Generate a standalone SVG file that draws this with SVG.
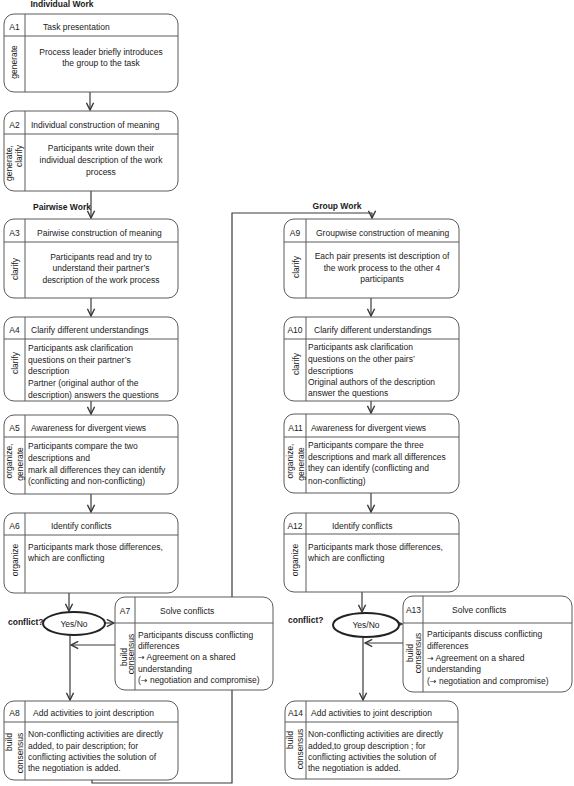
<svg xmlns="http://www.w3.org/2000/svg" width="574" height="786" viewBox="0 0 574 786">
<style>
text{font-family:"Liberation Sans",Arial,sans-serif;font-size:8.5px;fill:#1a1a1a}
.b{font-weight:bold}
.ar{font-family:"DejaVu Sans",sans-serif;font-size:8px}
.box{fill:#fff;stroke:#5a5a5a;stroke-width:1}
.ln{stroke:#5a5a5a;stroke-width:1;fill:none}
.c{text-anchor:middle}
.s{text-anchor:middle;dominant-baseline:central}
.con{stroke:#3a3a3a;stroke-width:1.2;fill:none}
.ell{fill:#fff;stroke:#222;stroke-width:2}
</style>
<defs>
<marker id="ah" viewBox="0 0 10 10" refX="9" refY="5" markerWidth="9" markerHeight="9" markerUnits="userSpaceOnUse" orient="auto">
<path d="M1,1 L9,5 L1,9" fill="none" stroke="#3a3a3a" stroke-width="1.6"/>
</marker>
</defs>
<g id="labels">
<text class="b c" x="62" y="7">Individual Work</text>
<text class="b" x="33" y="210">Pairwise Work</text>
<text class="b c" x="337" y="209">Group Work</text>
<text class="b" x="8" y="625">conflict?</text>
<text class="b" x="288" y="623">conflict?</text>
</g>
<g id="connectors">
<line class="con" x1="90" y1="92" x2="90" y2="110" marker-end="url(#ah)"/>
<line class="con" x1="91" y1="191" x2="91" y2="218" marker-end="url(#ah)"/>
<line class="con" x1="91" y1="298" x2="91" y2="316" marker-end="url(#ah)"/>
<line class="con" x1="91" y1="401" x2="91" y2="414" marker-end="url(#ah)"/>
<line class="con" x1="91" y1="494" x2="91" y2="512" marker-end="url(#ah)"/>
<line class="con" x1="69" y1="593" x2="69" y2="611" marker-end="url(#ah)"/>
<line class="con" x1="104" y1="623" x2="114" y2="623" marker-end="url(#ah)"/>
<line class="con" x1="115" y1="645" x2="71" y2="645" marker-end="url(#ah)"/>
<line class="con" x1="70" y1="635" x2="70" y2="700" marker-end="url(#ah)"/>
<polyline class="con" points="92,780 92,783 232,783 232,213 372,213 372,218" marker-end="url(#ah)"/>
<line class="con" x1="371" y1="298" x2="371" y2="316" marker-end="url(#ah)"/>
<line class="con" x1="371" y1="401" x2="371" y2="413" marker-end="url(#ah)"/>
<line class="con" x1="371" y1="493" x2="371" y2="512" marker-end="url(#ah)"/>
<line class="con" x1="362" y1="592" x2="362" y2="612" marker-end="url(#ah)"/>
<line class="con" x1="399" y1="624" x2="402" y2="624" marker-end="url(#ah)"/>
<line class="con" x1="403" y1="643" x2="365" y2="643" marker-end="url(#ah)"/>
<line class="con" x1="363" y1="637" x2="363" y2="700" marker-end="url(#ah)"/>
</g>
<g id="A1">
<rect class="box" x="4" y="14" width="174" height="78" rx="10"/>
<line class="ln" x1="4" y1="36" x2="178" y2="36"/><line class="ln" x1="25" y1="14" x2="25" y2="92"/>
<text class="c" x="14.5" y="30">A1</text>
<text x="43" y="30">Task presentation</text>
<text class="c" x="101" y="55">Process leader briefly introduces</text>
<text class="c" x="101" y="66">the group to the task</text>
<text class="s" transform="rotate(-90 14 62)" x="14" y="62">generate</text>
</g>
<g id="A2">
<rect class="box" x="4" y="111" width="174" height="80" rx="10"/>
<line class="ln" x1="4" y1="134" x2="178" y2="134"/><line class="ln" x1="25" y1="111" x2="25" y2="191"/>
<text class="c" x="14.5" y="128">A2</text>
<text x="31" y="128">Individual construction of meaning</text>
<text class="c" x="101" y="151">Participants write down their</text>
<text class="c" x="101" y="163">individual description of the work</text>
<text class="c" x="101" y="175">process</text>
<text class="s" transform="rotate(-90 9 163)" x="9" y="163">generate,</text>
<text class="s" transform="rotate(-90 19 156)" x="19" y="156">clarify</text>
</g>
<g id="A3">
<rect class="box" x="4" y="219" width="174" height="79" rx="10"/>
<line class="ln" x1="4" y1="242" x2="178" y2="242"/><line class="ln" x1="25" y1="219" x2="25" y2="298"/>
<text class="c" x="14.5" y="236">A3</text>
<text x="37" y="236">Pairwise construction of meaning</text>
<text class="c" x="101" y="260">Participants read and try to</text>
<text class="c" x="101" y="271">understand their partner’s</text>
<text class="c" x="101" y="283">description of the work process</text>
<text class="s" transform="rotate(-90 15 269)" x="15" y="269">clarify</text>
</g>
<g id="A4">
<rect class="box" x="4" y="317" width="174" height="84" rx="10"/>
<line class="ln" x1="4" y1="339" x2="178" y2="339"/><line class="ln" x1="25" y1="317" x2="25" y2="401"/>
<text class="c" x="14.5" y="333">A4</text>
<text x="31" y="333">Clarify different understandings</text>
<text x="28" y="351">Participants ask clarification</text>
<text x="28" y="363">questions on their partner’s</text>
<text x="28" y="374">description</text>
<text x="28" y="386">Partner (original author of the</text>
<text x="28" y="398">description) answers the questions</text>
<text class="s" transform="rotate(-90 15 363)" x="15" y="363">clarify</text>
</g>
<g id="A5">
<rect class="box" x="4" y="415" width="174" height="79" rx="10"/>
<line class="ln" x1="4" y1="437" x2="178" y2="437"/><line class="ln" x1="25" y1="415" x2="25" y2="494"/>
<text class="c" x="14.5" y="431">A5</text>
<text x="31" y="431">Awareness for divergent views</text>
<text x="28" y="449">Participants compare the two</text>
<text x="28" y="461">descriptions and</text>
<text x="28" y="473">mark all differences they can identify</text>
<text x="28" y="484">(conflicting and non-conflicting)</text>
<text class="s" transform="rotate(-90 9 461)" x="9" y="461">organize,</text>
<text class="s" transform="rotate(-90 20 464)" x="20" y="464">generate</text>
</g>
<g id="A6">
<rect class="box" x="4" y="513" width="174" height="80" rx="10"/>
<line class="ln" x1="4" y1="535" x2="178" y2="535"/><line class="ln" x1="25" y1="513" x2="25" y2="593"/>
<text class="c" x="14.5" y="529">A6</text>
<text x="51" y="529">Identify conflicts</text>
<text x="28" y="550">Participants mark those differences,</text>
<text x="28" y="561">which are conflicting</text>
<text class="s" transform="rotate(-90 15 560)" x="15" y="560">organize</text>
</g>
<g id="D1">
<ellipse class="ell" cx="74" cy="623.5" rx="31" ry="11.5"/>
<text class="c" x="74" y="626.5">Yes/No</text>
</g>
<g id="A7">
<rect class="box" x="115" y="597" width="158" height="93" rx="10"/>
<line class="ln" x1="115" y1="623" x2="273" y2="623"/><line class="ln" x1="135" y1="597" x2="135" y2="690"/>
<text class="c" x="125" y="614">A7</text>
<text x="160" y="614">Solve conflicts</text>
<text x="138" y="638">Participants discuss conflicting</text>
<text x="138" y="649">differences</text>
<text x="138" y="660"><tspan class="ar">→</tspan> Agreement on a shared</text>
<text x="138" y="672">understanding</text>
<text x="138" y="683">(<tspan class="ar">→</tspan> negotiation and compromise)</text>
<text class="s" transform="rotate(-90 124 657)" x="124" y="657">build</text>
<text class="s" transform="rotate(-90 131 654)" x="131" y="654">consensus</text>
</g>
<g id="A8">
<rect class="box" x="4" y="701" width="174" height="79" rx="10"/>
<line class="ln" x1="4" y1="722" x2="178" y2="722"/><line class="ln" x1="25" y1="701" x2="25" y2="780"/>
<text class="c" x="14.5" y="716">A8</text>
<text x="33" y="716">Add activities  to joint description</text>
<text x="28" y="737">Non-conflicting activities are directly</text>
<text x="28" y="749">added, to pair description; for</text>
<text x="28" y="760">conflicting activities the solution of</text>
<text x="28" y="771">the negotiation is added.</text>
<text class="s" transform="rotate(-90 9 742)" x="9" y="742">build</text>
<text class="s" transform="rotate(-90 20 753)" x="20" y="753">consensus</text>
</g>
<g id="A9">
<rect class="box" x="284" y="219" width="175" height="79" rx="10"/>
<line class="ln" x1="284" y1="242" x2="459" y2="242"/><line class="ln" x1="306" y1="219" x2="306" y2="298"/>
<text class="c" x="295" y="236">A9</text>
<text x="316" y="236">Groupwise construction of meaning</text>
<text class="c" x="382" y="259">Each pair presents ist description of</text>
<text class="c" x="382" y="271">the work process to the other 4</text>
<text class="c" x="382" y="282">participants</text>
<text class="s" transform="rotate(-90 296 267)" x="296" y="267">clarify</text>
</g>
<g id="A10">
<rect class="box" x="284" y="317" width="175" height="84" rx="10"/>
<line class="ln" x1="284" y1="339" x2="459" y2="339"/><line class="ln" x1="306" y1="317" x2="306" y2="401"/>
<text class="c" x="295" y="333">A10</text>
<text x="314" y="333">Clarify different understandings</text>
<text x="308" y="350">Participants ask clarification</text>
<text x="308" y="362">questions on the  other pairs’</text>
<text x="308" y="374">descriptions</text>
<text x="308" y="385">Original authors of the description</text>
<text x="308" y="396">answer the questions</text>
<text class="s" transform="rotate(-90 296 364)" x="296" y="364">clarify</text>
</g>
<g id="A11">
<rect class="box" x="284" y="414" width="175" height="79" rx="10"/>
<line class="ln" x1="284" y1="437" x2="459" y2="437"/><line class="ln" x1="306" y1="414" x2="306" y2="493"/>
<text class="c" x="295.5" y="431">A11</text>
<text x="311" y="431">Awareness for divergent views</text>
<text x="308" y="448">Participants compare the three</text>
<text x="308" y="460">descriptions and mark all differences</text>
<text x="308" y="471">they can identify (conflicting and</text>
<text x="308" y="484">non-conflicting)</text>
<text class="s" transform="rotate(-90 290 461)" x="290" y="461">organize,</text>
<text class="s" transform="rotate(-90 301 464)" x="301" y="464">generate</text>
</g>
<g id="A12">
<rect class="box" x="284" y="513" width="175" height="79" rx="10"/>
<line class="ln" x1="284" y1="534" x2="459" y2="534"/><line class="ln" x1="306" y1="513" x2="306" y2="592"/>
<text class="c" x="295" y="529">A12</text>
<text x="332" y="529">Identify conflicts</text>
<text x="308" y="550">Participants mark those differences,</text>
<text x="308" y="561">which are conflicting</text>
<text class="s" transform="rotate(-90 295 560)" x="295" y="560">organize</text>
</g>
<g id="D2">
<ellipse class="ell" cx="366" cy="625" rx="33" ry="12"/>
<text class="c" x="366" y="628">Yes/No</text>
</g>
<g id="A13">
<rect class="box" x="403" y="596" width="169" height="96" rx="10"/>
<line class="ln" x1="403" y1="623" x2="572" y2="623"/><line class="ln" x1="423" y1="596" x2="423" y2="692"/>
<text class="c" x="413.5" y="613">A13</text>
<text x="452" y="613">Solve conflicts</text>
<text x="427" y="637">Participants discuss conflicting</text>
<text x="427" y="649">differences</text>
<text x="427" y="661"><tspan class="ar">→</tspan> Agreement on a shared</text>
<text x="427" y="672">understanding</text>
<text x="427" y="684">(<tspan class="ar">→</tspan> negotiation and compromise)</text>
<text class="s" transform="rotate(-90 410 653)" x="410" y="653">build</text>
<text class="s" transform="rotate(-90 418 653)" x="418" y="653">consensus</text>
</g>
<g id="A14">
<rect class="box" x="285" y="701" width="173" height="78" rx="10"/>
<line class="ln" x1="285" y1="722" x2="458" y2="722"/><line class="ln" x1="306" y1="701" x2="306" y2="779"/>
<text class="c" x="295.5" y="716">A14</text>
<text x="311" y="716">Add activities  to joint description</text>
<text x="308" y="737">Non-conflicting activities are directly</text>
<text x="308" y="749">added,to group description ; for</text>
<text x="308" y="760">conflicting activities the solution of</text>
<text x="308" y="771">the negotiation is added.</text>
<text class="s" transform="rotate(-90 290 740)" x="290" y="740">build</text>
<text class="s" transform="rotate(-90 300 749)" x="300" y="749">consensus</text>
</g>
</svg>
